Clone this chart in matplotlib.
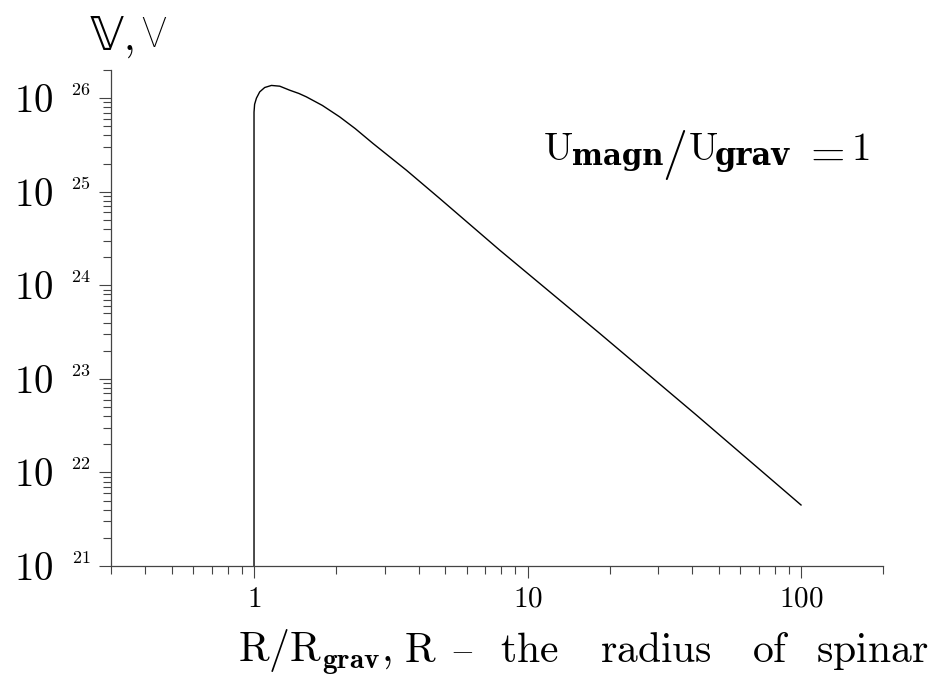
import numpy as np
import matplotlib
matplotlib.use('Agg')
import matplotlib.pyplot as plt
from matplotlib.ticker import LogLocator, NullFormatter, FixedLocator

plt.rcParams['mathtext.fontset'] = 'cm'

# valores (R/Rgrav, V)
r_ratio = [1.0, 1.0, 1.005, 1.0205, 1.049, 1.094, 1.158, 1.242, 1.351, 1.46,
           1.554, 1.778, 2.057, 2.344, 2.723, 3.606, 4.775, 7.907, 18.37,
           41.46, 100.0]
volume = [1e21, 7.08e25, 8.6e25, 1.0e26, 1.167e26, 1.30e26, 1.368e26,
          1.343e26, 1.216e26, 1.122e26, 1.033e26, 8.36e25, 6.31e25, 4.73e25,
          3.28e25, 1.70e25, 8.47e24, 2.38e24, 3.06e23, 4.10e22, 4.49e21]

x_ticks = [1, 10, 100]
x_tick_labels = ['1', '10', '100']
y_exponents = [21, 22, 23, 24, 25, 26]

W, H = 948, 679
fig = plt.figure(figsize=(W / 100, H / 100), dpi=100)
ax = fig.add_axes([0.1171, 0.1664, 0.8147, 0.7305])

ax.plot(r_ratio, volume, color='black', lw=1.0)
ax.set_xscale('log')
ax.set_yscale('log')
ax.set_xlim(0.3, 200)
ax.set_ylim(1e21, 2e26)

# so os eixos da esquerda e de baixo
for s in ['top', 'right']:
    ax.spines[s].set_visible(False)
for s in ['left', 'bottom']:
    ax.spines[s].set_color('#444444')
    ax.spines[s].set_linewidth(0.9)

ax.xaxis.set_major_locator(FixedLocator(x_ticks))
ax.xaxis.set_minor_locator(LogLocator(base=10, subs=np.arange(2, 10)))
ax.set_xticklabels(['$%s$' % t for t in x_tick_labels], fontsize=21)
ax.xaxis.set_minor_formatter(NullFormatter())
ax.yaxis.set_major_locator(FixedLocator([10.0 ** e for e in y_exponents]))
ax.yaxis.set_minor_locator(LogLocator(base=10, subs=np.arange(2, 10), numticks=50))
ax.yaxis.set_major_formatter(NullFormatter())
ax.yaxis.set_minor_formatter(NullFormatter())

ax.tick_params(which='major', direction='out', length=8.6, width=0.8, color='#444444', pad=5)
ax.tick_params(which='minor', direction='out', length=5.8, width=0.8, color='#444444')

# rotulos do eixo y: "10" grande e expoente pequeno
trans = ax.get_yaxis_transform()
for e in y_exponents:
    ax.annotate('$10$', xy=(0, 10.0 ** e), xycoords=trans, xytext=(-77, -3),
                textcoords='offset pixels', ha='center', va='center', fontsize=28)
    ax.annotate('$%d$' % e, xy=(0, 10.0 ** e), xycoords=trans, xytext=(-30, 8),
                textcoords='offset pixels', ha='center', va='center', fontsize=13)


def put(px, py, s, size, ha='left', va='baseline', **kw):
    # texto posicionado em pixels da figura (origem no canto superior esquerdo)
    fig.text(px / W, 1 - py / H, s, fontsize=size, ha=ha, va=va, **kw)


# titulo do eixo y
put(90, 50, '\U0001D54D', 34, family='DejaVu Sans')
put(123, 50, r'$,$', 30)
put(141, 47, 'V', 30, family='Roboto', fontweight='light')

# U_magn / U_grav = 1
put(543, 160, r'$\mathrm{U}$', 28)
put(572, 165, 'magn', 21, family='DejaVu Serif', fontweight='bold')
put(674, 155, r'$/$', 36, ha='center', va='center')
put(688, 160, r'$\mathrm{U}$', 28)
put(715, 165, 'grav', 22, family='DejaVu Serif', fontweight='bold')
put(824, 152, r'$=$', 32, ha='center', va='center')
put(851, 160, r'$\mathrm{1}$', 28)

# titulo do eixo x
put(238, 662, r'$\mathrm{R/R}_{\mathbf{grav}},$', 30)
put(404, 662, r'$\mathrm{R}$', 30)
put(462, 650, r'$-$', 22, ha='center', va='center')
put(500, 662, r'$\mathrm{the}$', 30)
put(600, 662, r'$\mathrm{radius}$', 30)
put(752, 662, r'$\mathrm{of}$', 30)
put(816, 662, r'$\mathrm{spinar}$', 30)

fig.savefig('out.png', dpi=100)
